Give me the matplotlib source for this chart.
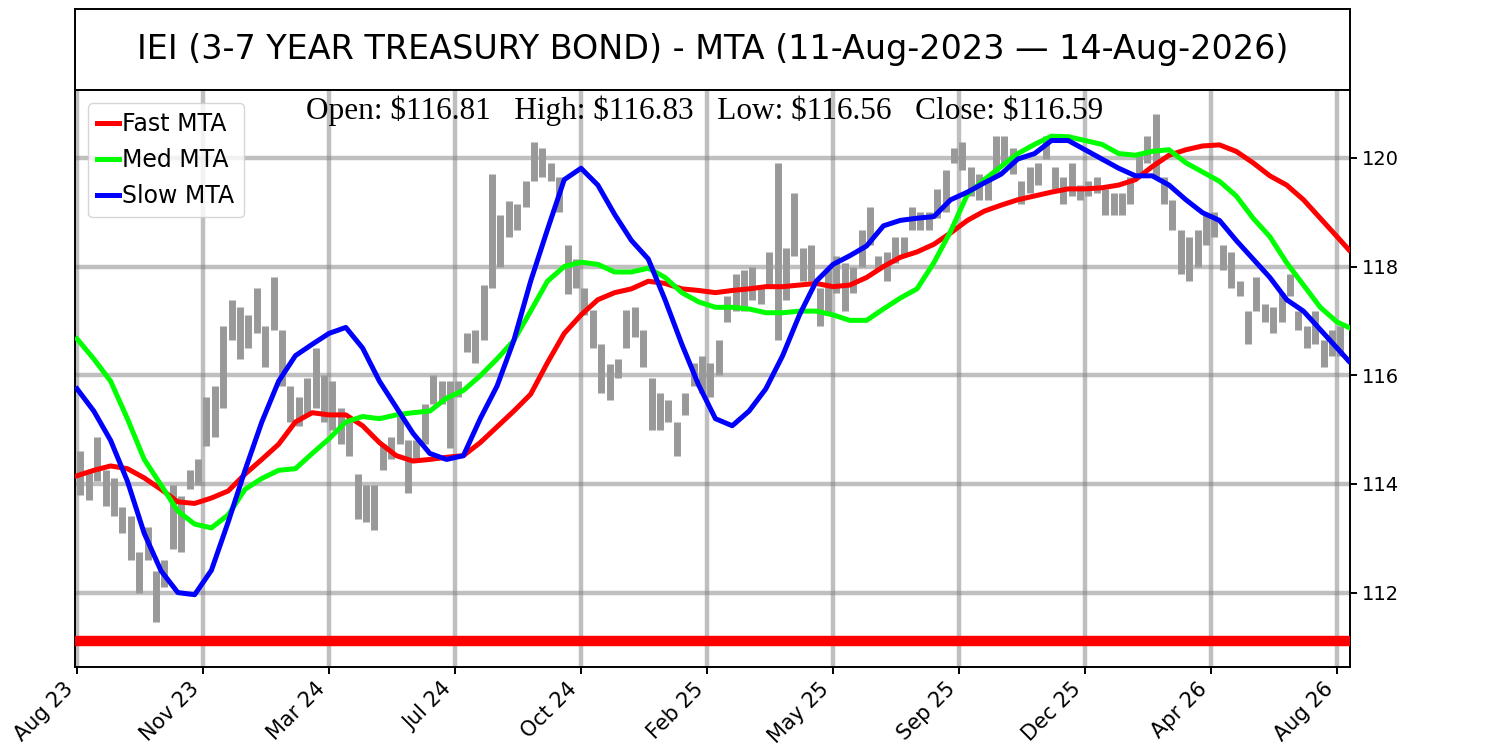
import numpy as np
import matplotlib
matplotlib.use('Agg')
import matplotlib.pyplot as plt

# weekly price ranges (one bar = 5 trading days)
week_high = [114.6, 114.25, 114.86, 114.25, 114.1, 113.57, 113.4, 112.75, 113.2, 112.4,
             112.6, 113.98, 113.77, 114.25, 114.45, 115.6, 115.8, 116.9, 117.39, 117.25,
             117.1, 117.6, 116.9, 117.8, 116.84,
             115.8, 115.6, 115.95, 116.5, 116.0, 115.9, 115.4, 115.14, 114.18, 113.98,
             113.98, 114.73, 114.86, 115.27, 114.8, 114.8, 115.47, 116.0, 115.9, 115.9,
             115.9, 116.77, 116.84, 117.66,
             119.7, 118.95, 119.2, 119.16, 119.57, 120.3, 120.18, 119.9, 119.64, 118.4,
             118.14, 117.6, 117.2, 116.57, 116.2, 116.3, 117.2, 117.25, 116.84, 115.95,
             115.68, 115.54, 115.14, 115.68, 116.23,
             116.36, 116.23, 116.64, 117.46, 117.87, 117.93, 118.0, 117.66, 118.27, 119.9,
             118.34, 119.36, 118.34, 118.4, 117.6, 117.93, 118.2, 118.07, 118.0, 118.68,
             119.1, 118.2, 118.27, 118.55, 118.55,
             119.1, 119.0, 119.0, 119.43, 119.77, 120.18, 120.3, 119.84, 119.7, 119.57,
             120.4, 120.4, 120.18, 119.57, 119.84, 119.9, 120.4, 119.84, 119.64, 119.9,
             119.5, 119.57, 119.64, 119.43, 119.36,
             119.36, 119.64, 120.05, 120.4, 120.8, 119.64, 119.23, 118.68, 118.55, 118.68,
             118.95, 119.0, 118.4, 118.27, 117.73, 117.18, 117.8, 117.32, 117.25, 117.52,
             117.87, 117.18, 116.9, 117.18, 116.64, 116.84, 116.9]
week_low = [113.8, 113.7, 114.05, 113.6, 113.4, 113.1, 112.6, 112.0, 112.6, 111.45,
            112.1, 112.8, 112.75, 113.9, 113.98, 114.7, 114.86, 115.4, 116.64, 116.3,
            116.5, 116.77, 116.16, 116.84, 115.8,
            115.14, 115.07, 115.27, 115.4, 115.14, 115.0, 114.73, 114.52, 113.36, 113.3,
            113.16, 114.25, 114.45, 114.73, 113.84, 114.45, 114.73, 115.47, 115.47, 114.66,
            115.6, 116.43, 116.23, 116.64,
            117.6, 118.0, 118.55, 118.68, 119.1, 119.57, 119.64, 119.57, 119.0, 117.5,
            117.6, 117.1, 116.5, 115.68, 115.54, 115.95, 116.5, 116.7, 116.16, 115.0,
            115.0, 115.14, 114.52, 115.27, 115.8,
            115.68, 115.6, 116.0, 116.98, 117.18, 117.18, 117.39, 117.32, 117.66, 116.64,
            117.39, 118.2, 117.73, 117.73, 116.9, 117.1, 117.52, 117.18, 117.52, 118.0,
            118.4, 117.93, 117.73, 118.07, 118.2,
            118.68, 118.68, 118.68, 118.9, 119.0, 119.9, 119.77, 119.3, 119.23, 119.23,
            119.64, 119.9, 119.7, 119.16, 119.36, 119.5, 119.98, 119.43, 119.16, 119.3,
            119.23, 119.3, 119.36, 118.95, 118.95,
            118.95, 119.16, 119.7, 119.9, 119.64, 119.16, 118.68, 117.87, 117.73, 118.0,
            118.4, 118.55, 117.93, 117.6, 117.46, 116.57, 117.18, 116.98, 116.77, 116.98,
            117.46, 116.84, 116.5, 116.57, 116.16, 116.36, 116.36]

# MTA lines, sampled every 10 trading days (last point at the final bar)
mta_days = list(range(0, 751, 10)) + [757]
fast_mta = [114.15, 114.25, 114.33, 114.28, 114.11, 113.9, 113.67, 113.64, 113.74, 113.87,
            114.18, 114.45, 114.73, 115.14, 115.31, 115.27, 115.27, 115.07, 114.76, 114.52,
            114.42, 114.45, 114.49, 114.52, 114.76, 115.05, 115.34, 115.65, 116.23, 116.77,
            117.11, 117.39, 117.52, 117.59, 117.73, 117.69, 117.59, 117.56, 117.52, 117.56,
            117.59, 117.63, 117.63, 117.66, 117.69, 117.63, 117.66, 117.8, 118.0, 118.17,
            118.27, 118.41, 118.62, 118.85, 119.02, 119.13, 119.23, 119.3, 119.37, 119.43,
            119.43, 119.45, 119.5, 119.6, 119.84, 120.05, 120.15, 120.22, 120.24, 120.12,
            119.91, 119.67, 119.5, 119.23, 118.89, 118.55, 118.31]
med_mta = [116.67, 116.3, 115.89, 115.2, 114.45, 113.98, 113.5, 113.26, 113.19, 113.43,
           113.9, 114.1, 114.25, 114.28, 114.56, 114.83, 115.14, 115.24, 115.2, 115.27,
           115.31, 115.34, 115.58, 115.72, 115.99, 116.3, 116.64, 117.18, 117.73, 118.0,
           118.08, 118.04, 117.9, 117.9, 117.97, 117.8, 117.52, 117.35, 117.25, 117.25,
           117.22, 117.15, 117.15, 117.18, 117.18, 117.11, 117.01, 117.01, 117.22, 117.42,
           117.59, 118.07, 118.65, 119.33, 119.6, 119.84, 120.08, 120.25, 120.4, 120.39,
           120.32, 120.25, 120.08, 120.05, 120.12, 120.15, 119.91, 119.74, 119.57, 119.3,
           118.89, 118.55, 118.07, 117.66, 117.25, 116.98, 116.88]
slow_mta = [115.75, 115.34, 114.8, 114.05, 113.09, 112.4, 112.0, 111.96, 112.41, 113.3,
            114.25, 115.14, 115.89, 116.36, 116.57, 116.77, 116.88, 116.5, 115.89, 115.41,
            114.93, 114.56, 114.45, 114.52, 115.2, 115.8, 116.64, 117.73, 118.68, 119.6,
            119.81, 119.5, 118.96, 118.48, 118.14, 117.39, 116.57, 115.82, 115.2, 115.07,
            115.34, 115.75, 116.36, 117.11, 117.73, 118.04, 118.2, 118.38, 118.75, 118.85,
            118.89, 118.92, 119.23, 119.37, 119.54, 119.7, 119.98, 120.08, 120.32, 120.32,
            120.15, 119.98, 119.81, 119.67, 119.67, 119.5, 119.23, 118.99, 118.85, 118.48,
            118.14, 117.8, 117.39, 117.18, 116.84, 116.5, 116.26]

support_level = 111.1
tick_labels = ['Aug 23', 'Nov 23', 'Mar 24', 'Jul 24', 'Oct 24', 'Feb 25',
               'May 25', 'Sep 25', 'Dec 25', 'Apr 26', 'Aug 26']
title = 'IEI (3-7 YEAR TREASURY BOND) - MTA (11-Aug-2023 \u2014 14-Aug-2026)'
ohlc_text = r'Open: \$116.81   High: \$116.83   Low: \$116.56   Close: \$116.59'

fig = plt.figure(figsize=(15, 7.5), dpi=100)

# title box
tax = fig.add_axes([0.05, 0.88, 0.85, 0.108])
tax.set_xticks([])
tax.set_yticks([])
for s in tax.spines.values():
    s.set_linewidth(1.4)
tax.text(0.5, 0.5, title, ha='center', va='center', fontsize=24)

ax = fig.add_axes([0.05, 0.1107, 0.85, 0.7693])

bar_days = np.arange(len(week_high)) * 5 + 2
ax.vlines(bar_days, week_low, week_high, color='#999999', linewidth=5, zorder=2)

ax.plot(mta_days, fast_mta, color='red', lw=3.6, label='Fast MTA', zorder=3)
ax.plot(mta_days, med_mta, color='lime', lw=3.6, label='Med MTA', zorder=3)
ax.plot(mta_days, slow_mta, color='blue', lw=3.6, label='Slow MTA', zorder=4)
ax.axhline(support_level, color='red', lw=7.5, zorder=3)

ax.set_xticks(np.arange(len(tick_labels)) * 75)
ax.set_xticklabels(tick_labels, rotation=45, ha='right', fontsize=15)
ax.set_xlim(-1.2, 757.7)
ax.set_ylim(110.63, 121.25)
ax.set_yticks([112, 114, 116, 118, 120])
ax.yaxis.tick_right()
ax.tick_params(axis='y', labelsize=14, length=5, width=1.4)
ax.tick_params(axis='x', length=5, width=1.4)
for s in ax.spines.values():
    s.set_linewidth(1.4)
ax.grid(True, color='gray', alpha=0.5, lw=3.2, zorder=0)
ax.set_axisbelow(True)

ax.text(0.494, 0.99, ohlc_text, transform=ax.transAxes, ha='center', va='top',
        fontsize=22.5, family='Liberation Serif')
ax.legend(loc='upper left', fontsize=17, handlelength=0.9, handletextpad=0.15,
          borderaxespad=0.55)

fig.savefig('out.png', dpi=100)
